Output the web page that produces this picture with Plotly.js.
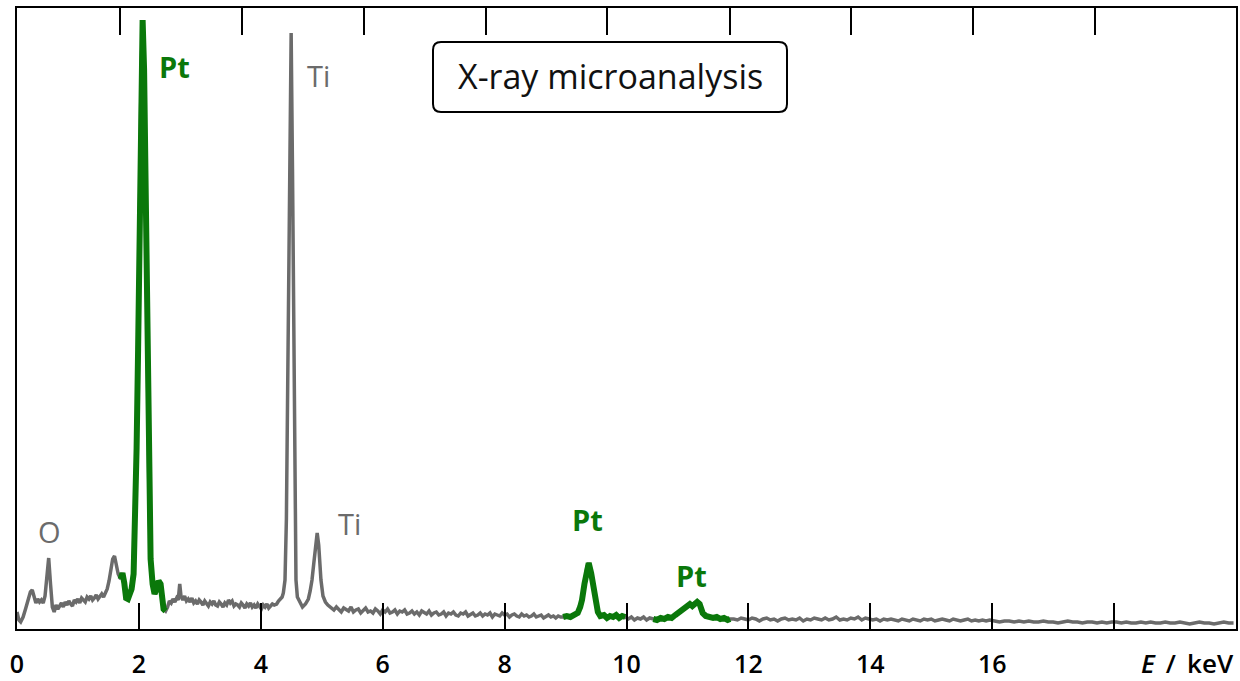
<!DOCTYPE html>
<html>
<head>
<meta charset="utf-8">
<script src="https://cdn.plot.ly/plotly-3.0.1.min.js"></script>
<style>
  html, body { margin: 0; padding: 0; background: #ffffff; }
  #chart { width: 1240px; height: 681px; }
</style>
</head>
<body>
<div id="chart"></div>
<script>
// EDX spectrum, energy in keV and counts in arbitrary units, one array per energy band.
const bandLow = [
  [0.00,17],[0.03,9],[0.06,7],[0.10,12],[0.14,20],[0.18,28],[0.22,37],[0.25,39],[0.28,31],[0.31,26],
  [0.34,30],[0.37,27],[0.40,29],[0.43,26],[0.46,33],[0.49,55],[0.52,71],[0.55,45],[0.58,22],[0.61,17],
  [0.64,24],[0.67,20],[0.70,23],[0.73,26],[0.76,22],[0.79,27],[0.82,24],[0.85,28],[0.88,25],[0.91,23],
  [0.94,29],[0.97,27],[1.00,30],[1.03,26],[1.06,31],[1.09,29],[1.12,27],[1.15,32],[1.18,30],[1.21,33],
  [1.24,29],[1.27,31],[1.30,34],[1.33,30],[1.36,33],[1.39,35],[1.42,32],[1.45,36],[1.48,40],[1.51,48],
  [1.54,60],[1.57,70],[1.60,73],[1.63,62],[1.66,55]
];
const bandPtM = [
  [1.70,50],[1.73,56],[1.76,46],[1.79,31],[1.82,30],[1.85,35],[1.88,40],[1.913,55],[1.938,100],[1.962,180],
  [1.987,280],[2.011,420],[2.036,560],[2.061,609],[2.085,560],[2.110,420],[2.134,300],[2.151,200],[2.167,120],
  [2.192,70],[2.225,45],[2.257,35],[2.290,40],[2.323,48],[2.356,45],[2.380,30],[2.405,20],[2.438,18]
];
const bandMid = [
  [2.47,22],[2.50,28],[2.53,26],[2.56,30],[2.59,27],[2.62,31],[2.645,29],[2.67,45],[2.69,33],[2.72,29],
  [2.75,33],[2.78,28],[2.81,30],[2.84,27],[2.87,31],[2.90,26],[2.93,28],[2.96,25],[2.99,29],[3.02,27],
  [3.05,24],[3.08,28],[3.11,26],[3.14,23],[3.17,27],[3.20,25],[3.23,28],[3.26,24],[3.29,23],[3.32,27],
  [3.35,25],[3.38,22],[3.41,26],[3.44,24],[3.47,29],[3.50,26],[3.53,28],[3.56,23],[3.59,25],[3.62,24],
  [3.65,22],[3.68,26],[3.71,24],[3.74,21],[3.77,25],[3.80,23],[3.83,26],[3.86,22],[3.89,24],[3.92,21],
  [3.95,25],[3.98,23],[4.01,20],[4.04,24],[4.07,22],[4.10,25],[4.13,21],[4.16,23],[4.19,25],[4.22,24]
];
const bandTi = [
  [4.26,25],[4.29,28],[4.32,30],[4.35,32],[4.37,36],[4.397,49],[4.42,110],[4.446,249],[4.47,430],[4.498,596],
  [4.52,460],[4.544,249],[4.56,120],[4.577,49],[4.60,32],[4.65,25],[4.684,22],[4.733,25],[4.78,30],[4.81,38],
  [4.84,49],[4.87,66],[4.90,88],[4.925,96],[4.95,84],[4.97,64],[4.987,49],[5.02,33],[5.06,27],[5.10,24],[5.16,21]
];
const bandHigh = [
  [5.20,19],[5.24,22],[5.28,20],[5.32,17],[5.36,21],[5.40,19],[5.44,18],[5.48,22],[5.52,17],[5.56,19],
  [5.60,20],[5.64,16],[5.68,18],[5.72,21],[5.76,17],[5.80,18],[5.84,16],[5.88,20],[5.92,18],[5.96,15],
  [6.00,19],[6.04,17],[6.08,20],[6.12,16],[6.16,17],[6.20,19],[6.24,15],[6.28,18],[6.32,17],[6.36,19],
  [6.40,15],[6.44,16],[6.48,18],[6.52,15],[6.56,17],[6.60,14],[6.64,18],[6.68,16],[6.72,15],[6.76,18],
  [6.80,14],[6.84,16],[6.88,17],[6.92,14],[6.96,15],[7.00,17],[7.04,13],[7.08,16],[7.12,15],[7.16,17],
  [7.20,14],[7.24,13],[7.28,16],[7.32,15],[7.36,17],[7.40,13],[7.44,15],[7.48,16],[7.52,13],[7.56,14],
  [7.60,16],[7.64,13],[7.68,15],[7.72,14],[7.76,16],[7.80,12],[7.84,15],[7.88,14],[7.92,13],[7.96,16],
  [8.00,14],[8.04,15],[8.08,12],[8.12,14],[8.16,15],[8.20,13],[8.24,12],[8.28,15],[8.32,13],[8.36,14],
  [8.40,12],[8.44,13],[8.48,15],[8.52,12],[8.56,13],[8.60,14],[8.64,11],[8.68,13],[8.72,14],[8.76,12],
  [8.80,13],[8.84,11],[8.88,13],[8.92,12]
];
const bandPtL = [
  [8.96,12],[9.02,13],[9.08,12],[9.14,14],[9.20,16],[9.24,22],[9.27,29],[9.31,45],[9.35,62],[9.38,66],
  [9.42,56],[9.46,40],[9.49,29],[9.53,17],[9.57,13],[9.63,14],[9.68,11],[9.73,13],[9.78,12],[9.83,14],
  [9.88,11],[9.93,13],[9.98,12],
  [10.03,10],[10.08,12],[10.13,9],[10.18,11],[10.23,10],[10.28,12],[10.33,9],[10.38,11],
  [10.44,10],[10.50,9],[10.56,11],[10.62,10],[10.68,12],[10.74,11],[10.80,14],[10.86,17],[10.92,20],[10.98,23],
  [11.04,25],[11.08,23],[11.12,26],[11.16,27],[11.20,25],[11.25,16],[11.30,13],[11.36,12],[11.42,11],[11.48,12],
  [11.54,10],[11.60,11],[11.66,9],[11.70,10]
];
const bandTail = [
  [11.76,10],[11.82,9],[11.88,11],[11.94,10],[12.00,9],[12.06,11],[12.12,10],[12.18,8],[12.24,10],[12.30,11],
  [12.36,9],[12.42,10],[12.48,8],[12.54,10],[12.60,11],[12.66,9],[12.72,10],[12.78,9],[12.84,11],[12.90,8],
  [12.96,10],[13.02,9],[13.08,11],[13.14,10],[13.20,9],[13.26,11],[13.32,9],[13.38,10],[13.44,12],[13.50,9],
  [13.56,10],[13.62,9],[13.68,11],[13.74,10],[13.80,12],[13.86,9],[13.92,11],[13.98,10],[14.04,9],[14.10,10],
  [14.16,8],[14.22,10],[14.28,9],[14.34,10],[14.40,9],[14.46,8],[14.52,10],[14.58,9],[14.64,8],[14.70,10],
  [14.76,9],[14.82,8],[14.88,10],[14.94,9],[15.00,10],[15.06,8],[15.12,9],[15.18,10],[15.24,9],[15.30,8],
  [15.36,10],[15.42,9],[15.48,8],[15.54,9],[15.60,10],[15.66,8],[15.72,9],[15.78,8],[15.84,9],[15.90,8],
  [15.96,9],[16.04,8],[16.12,7],[16.20,8],[16.28,8],[16.36,7],[16.44,8],[16.52,7],[16.60,8],[16.68,7],
  [16.76,7],[16.84,8],[16.92,7],[17.00,7],[17.08,6],[17.16,7],[17.24,8],[17.32,7],[17.40,7],[17.48,6],
  [17.56,7],[17.64,7],[17.72,6],[17.80,7],[17.88,6],[17.96,7],[18.04,7],[18.12,6],[18.20,7],[18.28,6],
  [18.36,6],[18.44,7],[18.52,6],[18.60,7],[18.68,6],[18.76,6],[18.84,7],[18.92,6],[19.00,6],[19.08,7],
  [19.16,6],[19.24,5],[19.32,6],[19.40,7],[19.48,6],[19.56,6],[19.64,5],[19.72,6],[19.80,7],[19.88,6],[19.96,6]
];

// Energy windows of the platinum lines (M, L-alpha, L-beta), drawn in green.
const ptWindows = [[1.70, 2.45], [8.96, 9.98], [10.44, 11.70]];

// Peak labels: element, energy (keV), label height (counts), emphasised?
const peakLabels = [
  ['Pt', 2.585, 563, true],
  ['Ti', 4.94, 554, false],
  ['O', 0.53, 98, false],
  ['Ti', 5.46, 106, false],
  ['Pt', 9.36, 110, true],
  ['Pt', 11.07, 54, true]
];

const bottomTicks = [0, 2, 4, 6, 8, 10, 12, 14, 16, 18];
const bottomTickText = ['0', '2', '4', '6', '8', '10', '12', '14', '16', ''];
const topTicks = [1.69, 3.69, 5.69, 7.69, 9.68, 11.69, 13.68, 15.68, 17.68];

const spectrum = [].concat(bandLow, bandPtM, bandMid, bandTi, bandHigh, bandPtL, bandTail);
const energy = spectrum.map(p => p[0]);
const counts = spectrum.map(p => p[1]);

const GREY = '#6b6b6b';
const GREEN = '#0a780a';
const FONT = 'Open Sans, Noto Sans, sans-serif';

const traces = [{
  x: energy, y: counts, type: 'scatter', mode: 'lines',
  line: { color: GREY, width: 3.5 }, hoverinfo: 'skip', showlegend: false
}];
ptWindows.forEach(([a, b]) => {
  const sel = spectrum.filter(p => p[0] >= a && p[0] <= b);
  traces.push({
    x: sel.map(p => p[0]), y: sel.map(p => p[1]), type: 'scatter', mode: 'lines',
    line: { color: GREEN, width: 6 }, hoverinfo: 'skip', showlegend: false
  });
});
// hidden copy on the upper energy axis so that its tick marks are drawn
traces.push({
  x: energy, y: counts, xaxis: 'x2', yaxis: 'y', type: 'scatter', mode: 'lines',
  line: { width: 0, color: 'rgba(0,0,0,0)' }, opacity: 0, hoverinfo: 'skip', showlegend: false
});

// plot-area geometry in pixels, used for the rounded title frame
const plotL = 17, plotT = 8, plotW = 1219, plotH = 621;
const pxX = v => (v - plotL) / plotW;
const pxY = v => (plotT + plotH - v) / plotH;
function roundRect(x0, y0, x1, y1, r) {
  const P = (x, y) => pxX(x) + ',' + pxY(y);
  return 'M ' + P(x0 + r, y0) + ' L ' + P(x1 - r, y0) + ' Q ' + P(x1, y0) + ' ' + P(x1, y0 + r) +
         ' L ' + P(x1, y1 - r) + ' Q ' + P(x1, y1) + ' ' + P(x1 - r, y1) +
         ' L ' + P(x0 + r, y1) + ' Q ' + P(x0, y1) + ' ' + P(x0, y1 - r) +
         ' L ' + P(x0, y0 + r) + ' Q ' + P(x0, y0) + ' ' + P(x0 + r, y0) + ' Z';
}

const annotations = peakLabels.map(([t, e, c, bold]) => ({
  x: e, y: c, xref: 'x', yref: 'y', text: bold ? '<b>' + t + '</b>' : t,
  showarrow: false, xanchor: 'center', yanchor: 'middle',
  font: { family: FONT, size: 29, color: bold ? GREEN : GREY }
}));
annotations.push({
  x: pxX(610), y: pxY(76), xref: 'paper', yref: 'paper', text: 'X-ray microanalysis',
  showarrow: false, xanchor: 'center', yanchor: 'middle',
  font: { family: FONT, size: 34, color: '#111111' }
});
annotations.push({
  x: 1, y: 0, xref: 'paper', yref: 'paper', text: '<i>E</i> &#8201;/ &#8201;keV',
  showarrow: false, xanchor: 'right', yanchor: 'middle', yshift: -34,
  font: { family: FONT, size: 26, color: '#000000', weight: 600 }
});

const layout = {
  width: 1240, height: 681,
  margin: { l: plotL, r: 1240 - plotL - plotW, t: plotT, b: 681 - plotT - plotH, pad: 0 },
  paper_bgcolor: '#ffffff', plot_bgcolor: '#ffffff',
  showlegend: false,
  xaxis: {
    range: [0, 20], tickvals: bottomTicks, ticktext: bottomTickText,
    ticks: 'inside', ticklen: 26, tickwidth: 2, tickcolor: '#000000',
    showline: true, linewidth: 2, linecolor: '#000000', mirror: true,
    showgrid: false, zeroline: false, ticklabelstandoff: 12,
    tickfont: { family: FONT, size: 25, color: '#000000', weight: 600 }
  },
  xaxis2: {
    overlaying: 'x', anchor: 'y', side: 'top', range: [0, 20], tickvals: topTicks,
    ticks: 'inside', ticklen: 27, tickwidth: 2, tickcolor: '#000000',
    showticklabels: false, showline: false, showgrid: false, zeroline: false
  },
  yaxis: {
    range: [0, 621], showline: true, linewidth: 2, linecolor: '#000000', mirror: true,
    ticks: '', showticklabels: false, showgrid: false, zeroline: false
  },
  shapes: [{
    type: 'path', xref: 'paper', yref: 'paper', path: roundRect(433, 42, 787, 112, 8),
    line: { color: '#000000', width: 2 }, fillcolor: '#ffffff', layer: 'above'
  }],
  annotations: annotations
};

Plotly.newPlot('chart', traces, layout, { staticPlot: true, displayModeBar: false });
</script>
</body>
</html>
